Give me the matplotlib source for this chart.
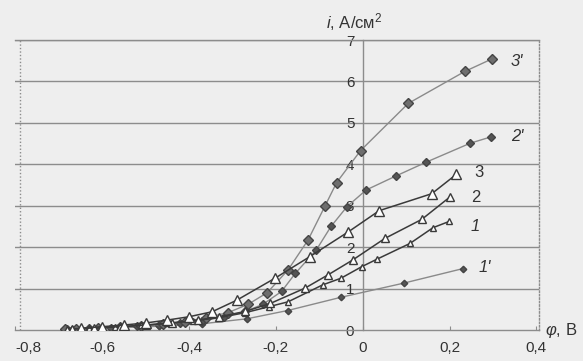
import matplotlib
matplotlib.use("Agg")
import matplotlib.pyplot as plt

plt.rcParams['font.family'] = ['Liberation Sans', 'DejaVu Sans']
plt.rcParams['mathtext.fontset'] = 'custom'
plt.rcParams['mathtext.rm'] = 'Liberation Sans'
plt.rcParams['mathtext.it'] = 'Liberation Sans:italic'

# potential phi, V and current density i, A/cm2
x3p = [-0.685, -0.66, -0.61, -0.56, -0.51, -0.46, -0.41, -0.36, -0.31, -0.264, -0.22, -0.172, -0.126, -0.087, -0.06, -0.005, 0.105, 0.235, 0.297]
y3p = [0.02, 0.03, 0.05, 0.07, 0.10, 0.14, 0.20, 0.30, 0.42, 0.62, 0.90, 1.45, 2.17, 2.99, 3.56, 4.33, 5.47, 6.24, 6.54]

x2p = [-0.68, -0.63, -0.58, -0.52, -0.47, -0.42, -0.37, -0.32, -0.27, -0.23, -0.187, -0.155, -0.107, -0.073, -0.036, 0.008, 0.077, 0.146, 0.248, 0.295]
y2p = [0.02, 0.04, 0.06, 0.09, 0.12, 0.16, 0.22, 0.32, 0.45, 0.62, 0.93, 1.37, 1.93, 2.50, 2.98, 3.38, 3.72, 4.05, 4.51, 4.66]

x1p = [-0.67, -0.57, -0.47, -0.37, -0.267, -0.173, -0.05, 0.094, 0.23]
y1p = [0.02, 0.05, 0.09, 0.15, 0.27, 0.47, 0.79, 1.13, 1.48]

x3 = [-0.65, -0.6, -0.55, -0.5, -0.45, -0.40, -0.347, -0.29, -0.202, -0.122, -0.033, 0.038, 0.159, 0.216]
y3 = [0.04, 0.08, 0.12, 0.17, 0.24, 0.32, 0.44, 0.72, 1.25, 1.77, 2.37, 2.88, 3.29, 3.76]

x2 = [-0.67, -0.62, -0.56, -0.5, -0.44, -0.38, -0.33, -0.27, -0.213, -0.133, -0.08, -0.023, 0.051, 0.136, 0.202]
y2 = [0.03, 0.05, 0.08, 0.12, 0.17, 0.24, 0.32, 0.45, 0.64, 1.01, 1.33, 1.69, 2.21, 2.67, 3.22]

x1 = [-0.68, -0.63, -0.57, -0.51, -0.45, -0.39, -0.33, -0.27, -0.217, -0.172, -0.092, -0.05, -0.002, 0.033, 0.109, 0.162, 0.199]
y1 = [0.02, 0.04, 0.07, 0.11, 0.16, 0.22, 0.30, 0.42, 0.56, 0.68, 1.09, 1.25, 1.53, 1.71, 2.09, 2.47, 2.62]

xticks = [-0.8, -0.6, -0.4, -0.2, 0, 0.2, 0.4]
xticklabels = ['-0,8', '-0,6', '-0,4', '-0,2', '0', '0,2', '0,4']
yticks = [0, 1, 2, 3, 4, 5, 6, 7]

bg = '#eeeeee'
fig = plt.figure(figsize=(5.83, 3.61), dpi=100, facecolor=bg)
ax = fig.add_axes([15.4 / 583, 31 / 361, 524 / 583, 290 / 361])
ax.set_facecolor(bg)

# horizontal grid
for yv in yticks[1:]:
    ax.axhline(yv, color='#8c8c8c', lw=1.0, zorder=1)
ax.axvline(-0.79, color='#8c8c8c', lw=1.0, ls=(0, (1, 1.5)), zorder=1)

ax.plot(x1p, y1p, color='#8a8a8a', lw=1.0, marker='D', ms=3.3,
        mfc='#555555', mec='#444444', zorder=3)
ax.plot(x2p, y2p, color='#8a8a8a', lw=1.0, marker='D', ms=3.8,
        mfc='#555555', mec='#444444', zorder=3)
ax.plot(x3p, y3p, color='#8a8a8a', lw=1.0, marker='D', ms=5.0,
        mfc='#6e6e6e', mec='#444444', zorder=3)
ax.plot(x1, y1, color='#3a3a3a', lw=1.1, marker='^', ms=4,
        mfc='white', mec='#3a3a3a', zorder=4)
ax.plot(x2, y2, color='#3a3a3a', lw=1.1, marker='^', ms=5.5,
        mfc='white', mec='#3a3a3a', zorder=4)
ax.plot(x3, y3, color='#3a3a3a', lw=1.1, marker='^', ms=6.5,
        mfc='white', mec='#3a3a3a', zorder=4)

ax.set_xlim(-0.8, 0.407)
ax.set_ylim(0, 7)
ax.set_xticks(xticks)
ax.set_xticklabels(xticklabels)
ax.get_xticklabels()[0].set_horizontalalignment('left')
ax.set_yticks(yticks)
ax.tick_params(axis='x', direction='in', length=3, color='#8c8c8c',
               labelsize=11, labelcolor='#333333', pad=8)
ax.tick_params(axis='y', length=0, labelsize=11, labelcolor='#333333', pad=6)

ax.spines['left'].set_position(('data', 0))
ax.spines['left'].set_color('#8c8c8c')
ax.spines['bottom'].set_color('#8c8c8c')
ax.spines['top'].set_color('#8c8c8c')
ax.spines['right'].set_color('#8c8c8c')
ax.spines['right'].set_linestyle((0, (1, 1.5)))
for sp in ax.spines.values():
    sp.set_linewidth(1.0)

# curve labels
ax.text(0.355, 6.47, "3'", fontsize=12, style='italic', color='#333333', ha='center', va='center')
ax.text(0.355, 4.66, "2'", fontsize=12, style='italic', color='#333333', ha='center', va='center')
ax.text(0.268, 3.79, "3", fontsize=12, color='#333333', ha='center', va='center')
ax.text(0.261, 3.21, "2", fontsize=12, color='#333333', ha='center', va='center')
ax.text(0.259, 2.49, "1", fontsize=12, style='italic', color='#333333', ha='center', va='center')
ax.text(0.281, 1.52, "1'", fontsize=12, style='italic', color='#333333', ha='center', va='center')

# axis titles
fig.text(326 / 583, 1 - 22 / 361, r"$i$, А/см$^2$", fontsize=12, color='#333333',
         ha='left', va='center')
fig.text(545 / 583, 1 - 330 / 361, r"$\varphi$, В", fontsize=12, color='#333333',
         ha='left', va='center')

fig.savefig('out.png', dpi=100, facecolor=bg)
